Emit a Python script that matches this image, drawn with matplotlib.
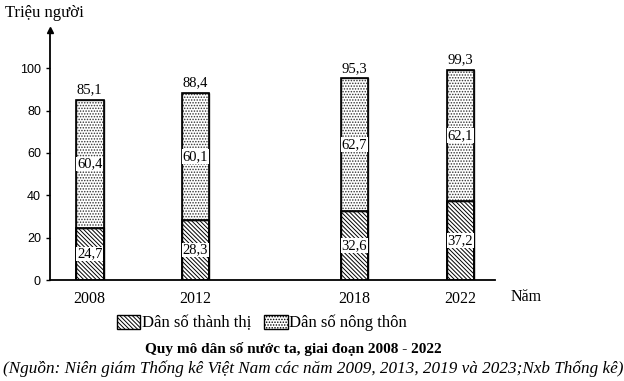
import matplotlib.pyplot as plt
import numpy as np
from matplotlib.patches import Patch

years = [2008, 2012, 2018, 2022]
thanh_thi = [24.7, 28.3, 32.6, 37.2]
nong_thon = [60.4, 60.1, 62.7, 62.1]
tong = [85.1, 88.4, 95.3, 99.3]
lbl_tt = ['24,7', '28,3', '32,6', '37,2']
lbl_nt = ['60,4', '60,1', '62,7', '62,1']
lbl_tong = ['85,1', '88,4', '95,3', '99,3']

plt.rcParams['font.family'] = ['Liberation Serif', 'DejaVu Serif']
plt.rcParams['hatch.linewidth'] = 0.7

fig = plt.figure(figsize=(6.24, 3.81), dpi=100)
ax = fig.add_axes([0.080, 0.265, 0.713, 0.656])

w = 1.05
hatch_tt = '\\' * 8
hatch_nt = '.' * 6
ax.bar(years, thanh_thi, w, color='white', edgecolor='black', hatch=hatch_tt, linewidth=1)
ax.bar(years, nong_thon, w, bottom=thanh_thi, color='white', edgecolor='#333333', hatch=hatch_nt, linewidth=1)
# outline again in black
ax.bar(years, tong, w, color='none', edgecolor='black', linewidth=1.2)
ax.bar(years, thanh_thi, w, color='none', edgecolor='black', linewidth=1.2)

box = dict(facecolor='white', edgecolor='none', pad=0.5)
for x, a, b, t, la, lb, lt in zip(years, thanh_thi, nong_thon, tong, lbl_tt, lbl_nt, lbl_tong):
    ax.text(x, a / 2, la, ha='center', va='center', fontsize=10.5, bbox=box)
    ax.text(x, a + b / 2, lb, ha='center', va='center', fontsize=10.5, bbox=box)
    ax.text(x, t + 1.5, lt, ha='center', va='bottom', fontsize=10.5)

ax.set_xlim(2006.5, 2023.3)
ax.set_ylim(0, 118)
ax.set_yticks([0, 20, 40, 60, 80, 100])
ax.set_xticks(years)
ax.tick_params(axis='x', length=0, labelsize=11.5, pad=8)
ax.tick_params(axis='y', length=3, labelsize=9, width=1)
for lab in ax.get_yticklabels():
    lab.set_family('Liberation Sans')

ax.spines['top'].set_visible(False)
ax.spines['right'].set_visible(False)
ax.spines['left'].set_linewidth(1.3)
ax.spines['bottom'].set_linewidth(1.3)
ax.plot(0, 1, '^k', markersize=5, transform=ax.transAxes, clip_on=False)

fig.text(0.008, 0.965, 'Triệu người', fontsize=12, ha='left', va='center')
fig.text(0.818, 0.22, 'Năm', fontsize=11.5, ha='left', va='center')

handles = [Patch(facecolor='white', edgecolor='black', hatch=hatch_tt),
           Patch(facecolor='white', edgecolor='black', hatch=hatch_nt)]
fig.legend(handles, ['Dân số thành thị', 'Dân số nông thôn'], loc='center',
           bbox_to_anchor=(0.42, 0.152), ncol=2, frameon=False, fontsize=12,
           handlelength=1.4, handleheight=0.9, handletextpad=0.1, columnspacing=0.8)

fig.text(0.47, 0.085, 'Quy mô dân số nước ta, giai đoạn 2008 - 2022', fontsize=11,
         fontweight='bold', ha='center', va='center')
fig.text(0.005, 0.033, '(Nguồn: Niên giám Thống kê Việt Nam các năm 2009, 2013, 2019 và 2023;Nxb Thống kê)',
         fontsize=12.3, style='italic', ha='left', va='center')

fig.savefig('out.png', dpi=100)
